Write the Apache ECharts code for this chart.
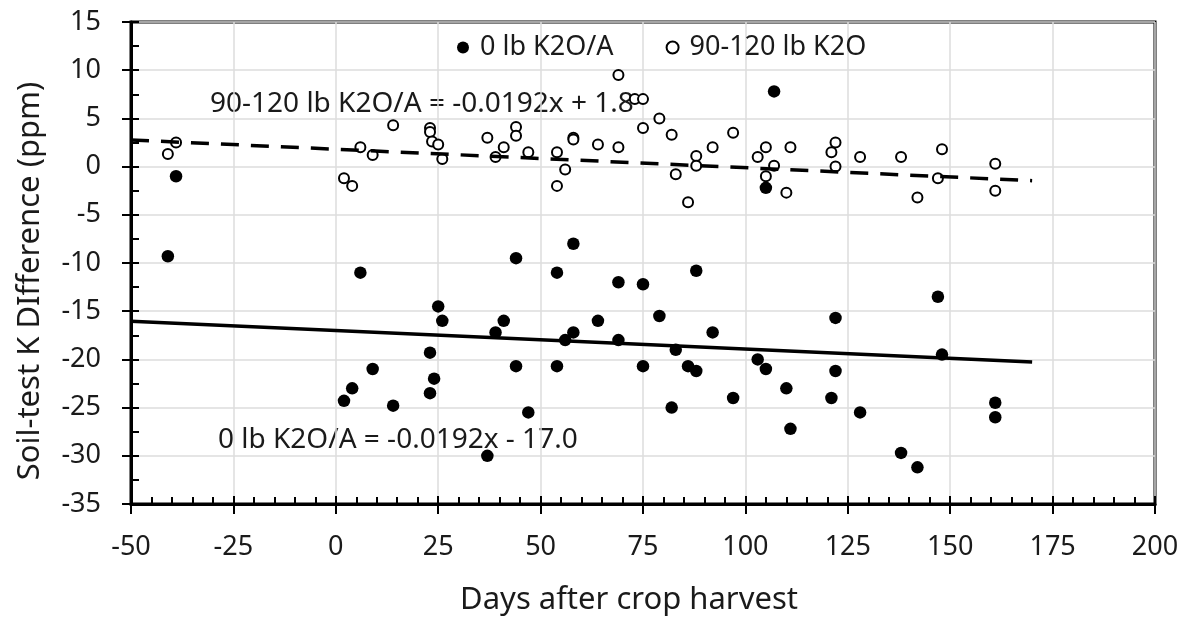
<!DOCTYPE html>
<html>
<head>
<meta charset="utf-8">
<script src="https://cdn.jsdelivr.net/npm/echarts@6/dist/echarts.min.js"></script>
<style>
  html, body { margin: 0; padding: 0; background: #fff; }
  #main { width: 1188px; height: 623px; }
</style>
</head>
<body>
<div id="main"></div>
<script>
// 0 lb K2O/A (filled dots)
const daysZero = [-41, -39, 2, 4, 6, 9, 14, 23, 23, 24, 25, 26, 37, 39, 41, 44, 44, 47, 54, 54, 56, 58, 58, 64, 69, 69, 75, 75, 79, 82, 83, 86, 88, 88, 92, 97, 103, 105, 105, 107, 110, 111, 121, 122, 122, 128, 138, 142, 147, 148, 161, 161];
const diffZero = [-9.3, -1, -24.3, -23, -11, -21, -24.8, -19.3, -23.5, -22, -14.5, -16, -30, -17.2, -16, -9.5, -20.7, -25.5, -11, -20.7, -18, -8, -17.2, -16, -12, -18, -12.2, -20.7, -15.5, -25, -19, -20.7, -10.8, -21.2, -17.2, -24, -20, -21, -2.2, 7.8, -23, -27.2, -24, -15.7, -21.2, -25.5, -29.7, -31.2, -13.5, -19.5, -24.5, -26];

// 90-120 lb K2O (open dots)
const daysHigh = [-41, -39, 2, 4, 6, 9, 14, 23, 23, 23.5, 25, 26, 37, 39, 41, 44, 44, 47, 54, 54, 56, 58, 58, 64, 69, 69, 73, 75, 75, 79, 82, 83, 86, 88, 88, 92, 97, 103, 105, 105, 107, 110, 111, 121, 122, 122, 128, 138, 142, 147, 148, 161, 161];
const diffHigh = [1.3, 2.5, -1.2, -2, 2, 1.2, 4.3, 4.0, 3.6, 2.6, 2.3, 0.8, 3.0, 1.0, 2, 4.1, 3.2, 1.5, 1.5, -2, -0.3, 3.0, 2.8, 2.3, 2, 9.5, 7, 7, 4, 5, 3.3, -0.8, -3.7, 1.1, 0.1, 2, 3.5, 1, 2, -1, 0.1, -2.7, 2, 1.5, 2.5, 0, 1, 1, -3.2, -1.2, 1.8, 0.3, -2.5];

// trend line end points
const trendDays = [-50, 170];
const trendZero = [-16.04, -20.26];
const trendHigh = [2.76, -1.46];

const xTicks = [-50, -25, 0, 25, 50, 75, 100, 125, 150, 175, 200];
const yTicks = [-35, -30, -25, -20, -15, -10, -5, 0, 5, 10, 15];

const seriesNames = ['0 lb K2O/A', '90-120 lb K2O'];
const eqHigh = '90-120 lb K2O/A = -0.0192x + 1.8';
const eqZero = '0 lb K2O/A = -0.0192x - 17.0';
const xName = 'Days after crop harvest';
const yName = 'Soil-test K DIfference (ppm)';

function pairs(xs, ys) {
  return xs.map((x, i) => [x, ys[i]]);
}

const font = '"Noto Sans", "Open Sans", sans-serif';
const ink = '#1a1a1a';
let myChart = echarts.init(document.getElementById('main'));

const axisX = {
  type: 'value',
  min: xTicks[0],
  max: xTicks[xTicks.length - 1],
  interval: 25,
  gridIndex: 0
};
const axisY = {
  type: 'value',
  min: yTicks[0],
  max: yTicks[yTicks.length - 1],
  interval: 5,
  gridIndex: 0
};

const option = {
  backgroundColor: '#fff',
  animation: false,
  grid: {
    left: 131,
    right: 33,
    top: 22,
    bottom: 119,
    show: true,
    borderColor: '#000',
    borderWidth: 3
  },
  legend: {
    data: [
      { name: seriesNames[0], icon: 'circle', itemStyle: { color: '#000' } },
      { name: seriesNames[1], icon: 'circle', itemStyle: { color: '#fff', borderColor: '#000', borderWidth: 2 } }
    ],
    left: 452,
    top: 29,
    itemWidth: 12,
    itemHeight: 12,
    itemGap: 52,
    textStyle: { fontFamily: font, fontSize: 27, color: ink, padding: [0, 0, 0, 6] }
  },
  xAxis: [
    Object.assign({}, axisX, {
      axisLine: { show: true, onZero: false, lineStyle: { color: '#000', width: 3 } },
      axisTick: { show: true, inside: true, length: 8, lineStyle: { color: '#000', width: 2 } },
      minorTick: { show: true, splitNumber: 5, length: 7, lineStyle: { color: '#000', width: 2 } },
      axisLabel: { fontFamily: font, fontSize: 27, color: ink, margin: 30 },
      splitLine: { show: true, lineStyle: { color: '#dcdcdc', width: 1.5 } }
    }),
    Object.assign({}, axisX, {
      position: 'bottom',
      axisLine: { show: false, onZero: false },
      axisTick: { show: true, inside: false, length: 10, lineStyle: { color: '#000', width: 2 } },
      axisLabel: { show: false },
      splitLine: { show: false }
    })
  ],
  yAxis: [
    Object.assign({}, axisY, {
      axisLine: { show: true, onZero: false, lineStyle: { color: '#000', width: 3 } },
      axisTick: { show: true, inside: true, length: 8, lineStyle: { color: '#000', width: 2 } },
      minorTick: { show: true, splitNumber: 2, length: 8, lineStyle: { color: '#000', width: 2 } },
      axisLabel: { fontFamily: font, fontSize: 27, color: ink, margin: 30 },
      splitLine: { show: true, lineStyle: { color: '#dcdcdc', width: 1.5 } }
    }),
    Object.assign({}, axisY, {
      position: 'left',
      axisLine: { show: false, onZero: false },
      axisTick: { show: true, inside: false, length: 9, lineStyle: { color: '#000', width: 2 } },
      axisLabel: { show: false },
      splitLine: { show: false }
    })
  ],
  graphic: [
    { type: 'text', x: 210, y: 104, style: { text: eqHigh, font: '28px ' + font, fill: ink, verticalAlign: 'middle' } },
    { type: 'text', x: 218, y: 440, style: { text: eqZero, font: '28px ' + font, fill: ink, verticalAlign: 'middle' } },
    { type: 'text', x: 629, y: 600, style: { text: xName, font: '31px ' + font, fill: ink, align: 'center', verticalAlign: 'middle' } },
    { type: 'text', x: 30, y: 281, rotation: Math.PI / 2, style: { text: yName, font: '31px ' + font, fill: ink, align: 'center', verticalAlign: 'middle' } }
  ],
  series: [
    {
      name: seriesNames[0],
      type: 'scatter',
      data: pairs(daysZero, diffZero),
      symbol: 'circle',
      symbolSize: 12.5,
      itemStyle: { color: '#000', opacity: 1 },
      z: 3
    },
    {
      name: seriesNames[1],
      type: 'scatter',
      data: pairs(daysHigh, diffHigh),
      symbol: 'circle',
      symbolSize: 10,
      itemStyle: { color: '#fff', borderColor: '#000', borderWidth: 2, opacity: 1 },
      z: 3
    },
    {
      type: 'line',
      data: pairs(trendDays, trendZero),
      symbol: 'none',
      lineStyle: { color: '#000', width: 3.5 },
      z: 4
    },
    {
      type: 'line',
      data: pairs(trendDays, trendHigh),
      symbol: 'none',
      lineStyle: { color: '#000', width: 3.5, type: [18, 12] },
      z: 4
    }
  ]
};
myChart.setOption(option);
</script>
</body>
</html>
